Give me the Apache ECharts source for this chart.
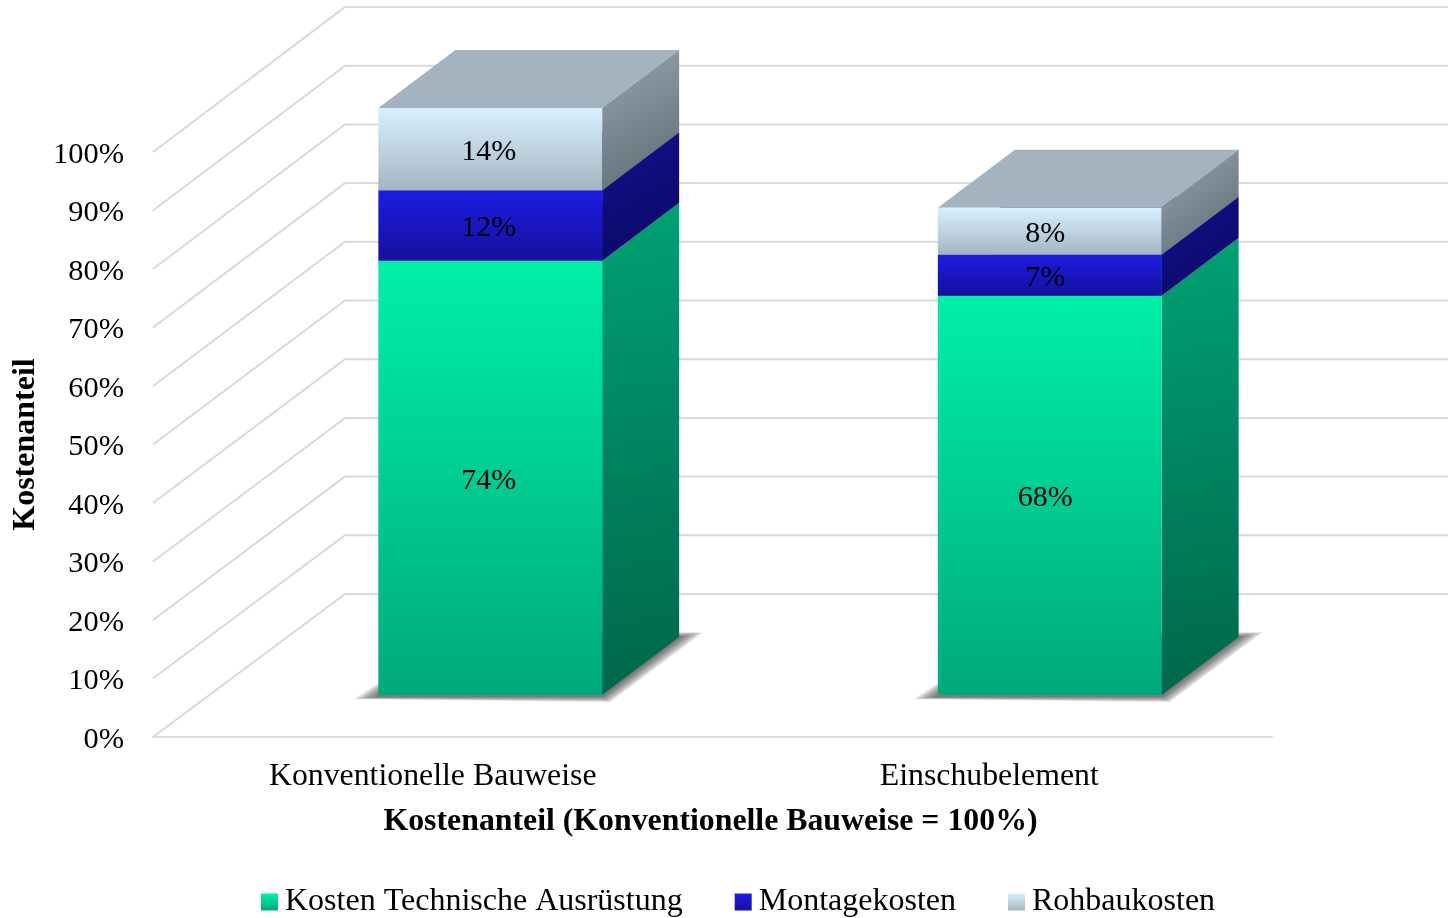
<!DOCTYPE html>
<html><head><meta charset="utf-8">
<style>html,body{margin:0;padding:0;background:#fff}#c{width:1448px;height:918px}</style>
<script src="https://cdn.jsdelivr.net/npm/echarts@6/dist/echarts.min.js"></script>
</head><body><div id="c"></div>
<script>
const categories = ['Konventionelle Bauweise', 'Einschubelement'];
const technik = [74, 68];
const montage = [12, 7];
const rohbau = [14, 8];
const ticks = [0, 10, 20, 30, 40, 50, 60, 70, 80, 90, 100];
const names = ['Kosten Technische Ausrüstung', 'Montagekosten', 'Rohbaukosten'];

const FONT = '"Liberation Serif","Times New Roman",serif';
const WALL = [192, -143], GAP = [57.5, -42], DEPTH = [77, -58];
const YS = 1.0034;
const LABEL_DX = [-1.5, -4.5];
const SHADOW_STEPS = [24, 20, 16, 12, 8, 4];

function grad(c0, c1, diag) {
  return new echarts.graphic.LinearGradient(0, 0, diag ? 1 : 0, 1, [
    { offset: 0, color: c0 }, { offset: 1, color: c1 }
  ]);
}
const looks = [
  { front: ['#00f0a8', '#00a97c'], side: ['#00a274', '#00664a'], top: '#00a274' },
  { front: ['#1d1ce4', '#15109c'], side: ['#14128f', '#0a0660'], top: '#14128f' },
  { front: ['#d9f0ff', '#a4b5c1'], side: ['#95a5b0', '#5c6a70'], top: '#a3b4c0' }
];

function gridItem(params, api) {
  const cs = params.coordSys;
  const base = api.coord([0, 0])[1];
  const y = base + (api.coord([0, api.value(0)])[1] - base) * YS;
  const yf = api.coord([0, api.value(0)])[1];
  return {
    type: 'polyline', silent: true,
    shape: { points: [[cs.x, yf], [cs.x + WALL[0], y + WALL[1]], [cs.x + cs.width + WALL[0], y + WALL[1]]] },
    style: { fill: null, stroke: '#d9d9d9', lineWidth: 2 }
  };
}

function barItem(look, withShadow) {
  return function (params, api) {
    const idx = api.value(0), v0 = api.value(1), v1 = api.value(2);
    const zero = api.coord([idx, 0]);
    const w = api.size([1, 0])[0] * 0.4;
    const sc = v => (api.coord([idx, v])[1] - zero[1]) * YS;
    const x0 = zero[0] - w / 2 + GAP[0], x1 = x0 + w;
    const yb = zero[1] + GAP[1];
    const y0 = yb + sc(v0), y1 = yb + sc(v1);
    const dx = DEPTH[0], dy = DEPTH[1];
    const children = [];
    if (withShadow) {
      SHADOW_STEPS.forEach(e => {
        children.push({
          type: 'polygon', silent: true,
          shape: { points: [[x0 - e, yb + 2 + e / 12], [x1 + e / 3, yb + 1 + e / 4], [x1 + dx + e, yb + dy - e / 5], [x0 + dx, yb + dy - e / 5]] },
          style: { fill: 'rgba(50,50,50,0.15)' }
        });
      });
    }
    children.push({
      type: 'polygon', silent: true,
      shape: { points: [[x0, y1], [x1, y1], [x1 + dx, y1 + dy], [x0 + dx, y1 + dy]] },
      style: { fill: look.top }
    });
    children.push({
      type: 'polygon', silent: true,
      shape: { points: [[x1, y0], [x1 + dx, y0 + dy], [x1 + dx, y1 + dy], [x1, y1]] },
      style: { fill: grad(look.side[0], look.side[1], true) }
    });
    children.push({
      type: 'rect', silent: true,
      shape: { x: x0, y: y1, width: w, height: y0 - y1 },
      style: { fill: grad(look.front[0], look.front[1], false) }
    });
    children.push({
      type: 'text', silent: true,
      style: {
        x: (x0 + x1) / 2 + LABEL_DX[idx], y: (y0 + y1) / 2 + 3,
        text: api.value(3) + '%', fill: '#000', font: '30px ' + FONT,
        align: 'center', verticalAlign: 'middle'
      }
    });
    return { type: 'group', children };
  };
}

const stacks = [technik, montage, rohbau];
const cum = [0, 0];
const barSeries = stacks.map((vals, s) => {
  const data = vals.map((v, i) => {
    const row = [i, cum[i], cum[i] + v, v];
    cum[i] += v;
    return row;
  });
  return {
    type: 'custom', name: names[s], data,
    encode: { x: 0, y: [1, 2] },
    itemStyle: { color: looks[s].front[0] },
    renderItem: barItem(looks[s], s === 0),
    silent: true, clip: false
  };
});

const chart = echarts.init(document.getElementById('c'), null, { renderer: 'canvas' });
chart.setOption({
  animation: false,
  backgroundColor: '#fff',
  tooltip: { show: false },
  grid: { left: 153, right: 176, top: 152, bottom: 181, containLabel: false, outerBoundsMode: 'none' },
  xAxis: {
    type: 'category', data: categories,
    axisLine: { show: true, lineStyle: { color: '#d9d9d9', width: 2 } },
    axisTick: { show: false },
    axisLabel: {
      color: '#000', fontFamily: FONT, fontSize: 31.8, margin: 24,
      formatter: (v, i) => i ? '{s|' + v + '}' : v,
      rich: { s: { color: '#000', fontFamily: FONT, fontSize: 31.8, padding: [0, 6, 0, 0] } }
    },
    name: 'Kostenanteil (Konventionelle Bauweise = 100%)',
    nameLocation: 'middle', nameGap: 69,
    nameTextStyle: { color: '#000', fontFamily: FONT, fontSize: 31.8, fontWeight: 'bold', padding: [0, 4, 0, 0] }
  },
  yAxis: {
    type: 'value', min: 0, max: 100, interval: 10,
    axisLine: { show: false }, axisTick: { show: false }, splitLine: { show: false },
    axisLabel: {
      color: '#000', fontFamily: FONT, fontSize: 30.4, margin: 29, formatter: '{t|{value}%}',
      rich: { t: { color: '#000', fontFamily: FONT, fontSize: 30.4, padding: [6, 0, 0, 0] } }
    },
    name: 'Kostenanteil', nameLocation: 'middle', nameGap: 104, nameRotate: 90,
    nameTextStyle: { color: '#000', fontFamily: FONT, fontSize: 32, fontWeight: 'bold' }
  },
  legend: {
    left: 256, top: 881, itemWidth: 17, itemHeight: 17, itemGap: 52,
    icon: 'rect', selectedMode: false,
    textStyle: { color: '#000', fontFamily: FONT, fontSize: 32, padding: [0, 0, 0, 2] },
    data: names.map((n, s) => ({ name: n, itemStyle: { color: grad(looks[s].front[0], looks[s].front[1], false) } }))
  },
  series: [{
    type: 'custom', name: 'Gitter', data: ticks.map(t => [t]),
    encode: { y: 0 }, renderItem: gridItem, silent: true, clip: false
  }].concat(barSeries)
});
</script></body></html>
